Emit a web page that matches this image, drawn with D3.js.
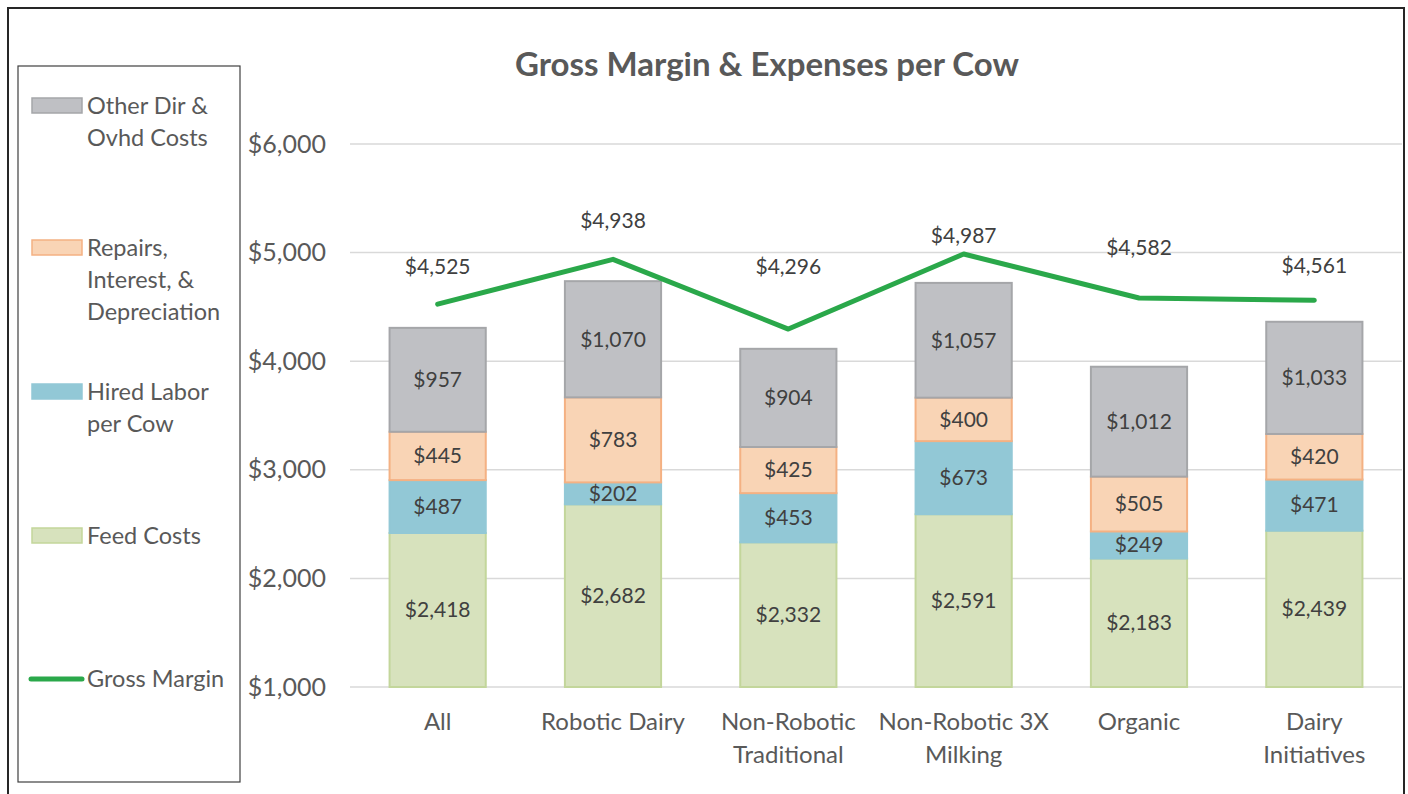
<!DOCTYPE html>
<html>
<head>
<meta charset="utf-8">
<script src="https://cdn.jsdelivr.net/npm/d3@7"></script>
<style>
  body { margin: 0; background: #fff; }
  text { font-family: Lato, "Open Sans", sans-serif; }
</style>
</head>
<body>
<div id="chart"></div>
<script>
var width = 1408,
    height = 794;

// data
var categories = ['All', 'Robotic Dairy', 'Non-Robotic Traditional', 'Non-Robotic 3X Milking', 'Organic', 'Dairy Initiatives']
var catLines = [['All'], ['Robotic Dairy'], ['Non-Robotic', 'Traditional'], ['Non-Robotic 3X', 'Milking'], ['Organic'], ['Dairy', 'Initiatives']]
var feed = [2418, 2682, 2332, 2591, 2183, 2439]
var labor = [487, 202, 453, 673, 249, 471]
var repairs = [445, 783, 425, 400, 505, 420]
var other = [957, 1070, 904, 1057, 1012, 1033]
var grossMargin = [4525, 4938, 4296, 4987, 4582, 4561]
var yTicks = [1000, 2000, 3000, 4000, 5000, 6000]

// the margin labels were dragged by hand in the original, so each has its own lift
var marginLabelLift = [38, 39, 62, 18, 50, 35]

var series = [
    { name: 'Feed Costs', values: feed, fill: '#d7e2bd', stroke: '#c3d69b' },
    { name: 'Hired Labor per Cow', values: labor, fill: '#92c8d6', stroke: '#92c8d6' },
    { name: 'Repairs, Interest, & Depreciation', values: repairs, fill: '#f9d4b5', stroke: '#f4b183' },
    { name: 'Other Dir & Ovhd Costs', values: other, fill: '#bfc0c4', stroke: '#a5a6a9' }
]

var svg = d3.select('#chart')
    .append('svg')
    .attr('width', width)
    .attr('height', height)

// outer frame
svg.append('rect')
    .attr('x', 8).attr('y', 8)
    .attr('width', 1396).attr('height', 800)
    .attr('fill', 'none')
    .attr('stroke', '#262626')
    .attr('stroke-width', 2)

// title
svg.append('text')
    .attr('x', 767).attr('y', 76)
    .attr('text-anchor', 'middle')
    .attr('font-size', 33)
    .attr('font-weight', 'bold')
    .attr('fill', '#595959')
    .text('Gross Margin & Expenses per Cow')

// scales
var xscale = d3.scaleBand()
    .domain(categories)
    .range([350, 1402])
    .paddingInner(0.44)
    .paddingOuter(0.22)

var yscale = d3.scaleLinear()
    .domain([1000, 6000])
    .range([687, 144])

// gridlines
svg.append('g')
    .selectAll('line')
    .data(yTicks)
    .enter()
    .append('line')
    .attr('x1', 350).attr('x2', 1402)
    .attr('y1', d => yscale(d)).attr('y2', d => yscale(d))
    .attr('stroke', '#d9d9d9')
    .attr('stroke-width', 1.5)

// y axis
var yaxis = d3.axisLeft(yscale)
    .tickValues(yTicks)
    .tickFormat(d => '$' + d3.format(',')(d))
    .tickSize(0)
    .tickPadding(0)
var yg = svg.append('g')
    .attr('transform', 'translate(326,0)')
    .call(yaxis)
yg.select('.domain').remove()
yg.selectAll('text')
    .attr('font-size', 25)
    .attr('fill', '#595959')
    .style('font-family', 'Lato, "Open Sans", sans-serif')

// stacked bars
var rows = categories.map((c, i) => {
    var r = { cat: c }
    series.forEach(s => { r[s.name] = s.values[i] })
    return r
})
var stack = d3.stack().keys(series.map(s => s.name))(rows)

stack.forEach((layer, li) => {
    var s = series[li]
    var g = svg.append('g')
    g.selectAll('rect')
        .data(layer)
        .enter()
        .append('rect')
        .attr('x', d => xscale(d.data.cat) + 1)
        .attr('width', xscale.bandwidth() - 2)
        .attr('y', d => yscale(d[1]))
        .attr('height', d => yscale(Math.max(d[0], 1000)) - yscale(d[1]))
        .attr('fill', s.fill)
        .attr('stroke', s.stroke)
        .attr('stroke-width', 2)
    g.selectAll('text')
        .data(layer)
        .enter()
        .append('text')
        .attr('x', d => xscale(d.data.cat) + xscale.bandwidth() / 2)
        .attr('y', d => (yscale(Math.max(d[0], 1000)) + yscale(d[1])) / 2)
        .attr('dy', '0.35em')
        .attr('text-anchor', 'middle')
        .attr('font-size', 21)
        .attr('fill', '#404040')
        .text(d => '$' + d3.format(',')(d[1] - d[0]))
})

// gross margin line
var line = d3.line()
    .x((d, i) => xscale(categories[i]) + xscale.bandwidth() / 2)
    .y(d => yscale(d))
svg.append('path')
    .datum(grossMargin)
    .attr('d', line)
    .attr('fill', 'none')
    .attr('stroke', '#2aa84a')
    .attr('stroke-width', 5)
    .attr('stroke-linecap', 'round')
    .attr('stroke-linejoin', 'round')

svg.append('g')
    .selectAll('text')
    .data(grossMargin)
    .enter()
    .append('text')
    .attr('x', (d, i) => xscale(categories[i]) + xscale.bandwidth() / 2)
    .attr('y', (d, i) => yscale(d) - marginLabelLift[i])
    .attr('dy', '0.35em')
    .attr('text-anchor', 'middle')
    .attr('font-size', 21)
    .attr('fill', '#404040')
    .text(d => '$' + d3.format(',')(d))

// category labels
var cg = svg.append('g')
catLines.forEach((lines, i) => {
    var t = cg.append('text')
        .attr('x', xscale(categories[i]) + xscale.bandwidth() / 2)
        .attr('y', 730)
        .attr('text-anchor', 'middle')
        .attr('font-size', 24)
        .attr('fill', '#595959')
    lines.forEach((l, j) => {
        t.append('tspan')
            .attr('x', xscale(categories[i]) + xscale.bandwidth() / 2)
            .attr('dy', j === 0 ? 0 : 33)
            .text(l)
    })
})

// legend
var legendItems = [
    { lines: ['Other Dir &', 'Ovhd Costs'], y: 106, s: series[3] },
    { lines: ['Repairs,', 'Interest, &', 'Depreciation'], y: 248, s: series[2] },
    { lines: ['Hired Labor', 'per Cow'], y: 392, s: series[1] },
    { lines: ['Feed Costs'], y: 536, s: series[0] },
    { lines: ['Gross Margin'], y: 679, line: true }
]

svg.append('rect')
    .attr('x', 18).attr('y', 66)
    .attr('width', 222).attr('height', 716)
    .attr('fill', 'none')
    .attr('stroke', '#404040')
    .attr('stroke-width', 1.2)

var lg = svg.append('g')
legendItems.forEach(item => {
    if (item.line) {
        lg.append('line')
            .attr('x1', 31).attr('x2', 82)
            .attr('y1', item.y).attr('y2', item.y)
            .attr('stroke', '#2aa84a')
            .attr('stroke-width', 5)
            .attr('stroke-linecap', 'round')
    } else {
        lg.append('rect')
            .attr('x', 32).attr('y', item.y - 8)
            .attr('width', 50).attr('height', 15)
            .attr('fill', item.s.fill)
            .attr('stroke', item.s.stroke)
            .attr('stroke-width', 1.5)
    }
    var t = lg.append('text')
        .attr('x', 87)
        .attr('y', item.y)
        .attr('font-size', 23.5)
        .attr('fill', '#595959')
    item.lines.forEach((l, j) => {
        t.append('tspan')
            .attr('x', 87)
            .attr('dy', j === 0 ? '0.35em' : 32)
            .text(l)
    })
})
</script>
</body>
</html>
